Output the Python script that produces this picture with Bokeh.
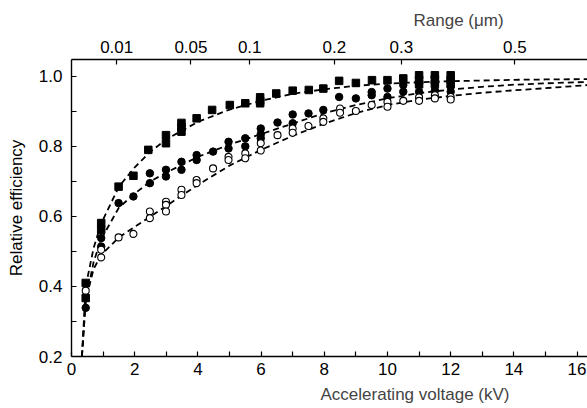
from bokeh.plotting import figure
from bokeh.models import LinearAxis, FixedTicker, Range1d, Title
from bokeh.embed import file_html
from bokeh.resources import INLINE

# ---------------- data ----------------
# filled squares
sq_kv = [0.45, 0.45, 0.94, 0.94, 1.49, 1.96, 2.43, 2.99, 2.99, 3.48, 3.48, 3.48, 3.96, 4.45,
         5.01, 5.50, 5.97, 5.97, 5.97, 6.48, 7.0, 7.51, 7.97, 8.47, 9.0, 9.51, 10.0, 10.5,
         11.0, 11.0, 11.0, 11.5, 11.5, 11.5, 12.0, 12.0, 12.0]
sq_eff = [0.41, 0.367, 0.581, 0.562, 0.685, 0.716, 0.79, 0.809, 0.832, 0.867, 0.855, 0.842, 0.880, 0.904,
          0.918, 0.923, 0.94, 0.93, 0.923, 0.951, 0.959, 0.961, 0.965, 0.987, 0.981, 0.989, 0.989, 0.994,
          1.003, 0.99, 0.977, 1.003, 0.99, 0.978, 1.003, 0.99, 0.977]
# filled circles
fc_kv = [0.45, 0.94, 0.94, 1.49, 1.96, 2.48, 2.48, 2.99, 2.99, 3.48, 3.48, 3.96, 3.96, 4.48,
         4.97, 4.97, 5.50, 5.50, 5.99, 5.99, 5.99, 6.52, 7.0, 7.0, 7.5, 7.97, 8.47, 9.0,
         9.5, 9.5, 10.0, 10.0, 10.5, 10.5, 11.0, 11.0, 11.5, 11.5, 11.5, 12.0, 12.0, 12.0]
fc_eff = [0.339, 0.538, 0.514, 0.638, 0.657, 0.723, 0.695, 0.733, 0.714, 0.756, 0.733, 0.775, 0.761, 0.785,
          0.813, 0.794, 0.823, 0.80, 0.851, 0.835, 0.823, 0.868, 0.891, 0.866, 0.894, 0.904, 0.941, 0.937,
          0.955, 0.946, 0.965, 0.941, 0.975, 0.956, 0.98, 0.956, 1.0, 0.98, 0.96, 0.99, 0.972, 0.956]
# open circles
oc_kv = [0.45, 0.94, 0.94, 1.49, 1.96, 2.48, 2.48, 2.99, 2.99, 2.99, 3.48, 3.48, 3.96, 3.96,
         4.48, 4.97, 4.97, 5.50, 5.50, 5.99, 5.99, 6.52, 7.0, 7.0, 7.5, 7.97, 7.97, 8.5, 8.5,
         9.0, 9.5, 10.0, 10.0, 10.5, 11.0, 11.0, 11.5, 11.5, 12.0, 12.0]
oc_eff = [0.388, 0.505, 0.483, 0.540, 0.550, 0.614, 0.595, 0.642, 0.633, 0.614, 0.676, 0.661, 0.704, 0.695,
          0.737, 0.770, 0.761, 0.780, 0.766, 0.809, 0.788, 0.832, 0.851, 0.839, 0.858, 0.880, 0.870, 0.908, 0.896,
          0.901, 0.918, 0.927, 0.913, 0.930, 0.940, 0.930, 0.946, 0.937, 0.941, 0.934]

# dashed fitted curves
fit_kv = [0.33, 0.45, 0.7, 0.94, 1.5, 2.0, 2.5, 3.0, 4.0, 5.0, 6.0, 7.0, 8.0, 9.0, 10.0, 11.0, 12.0, 13.0, 14.0, 15.0, 16.33]
fit_sq = [0.20, 0.40, 0.51, 0.58, 0.685, 0.74, 0.785, 0.82, 0.87, 0.905, 0.93, 0.95, 0.963, 0.973, 0.979, 0.983, 0.986, 0.988, 0.99, 0.991, 0.992]
fit_fc = [0.20, 0.36, 0.47, 0.535, 0.625, 0.665, 0.70, 0.725, 0.77, 0.805, 0.835, 0.865, 0.895, 0.918, 0.937, 0.952, 0.962, 0.97, 0.976, 0.98, 0.984]
fit_oc = [0.20, 0.36, 0.45, 0.49, 0.54, 0.57, 0.60, 0.63, 0.69, 0.745, 0.79, 0.83, 0.865, 0.895, 0.918, 0.933, 0.944, 0.953, 0.96, 0.966, 0.975]

# axes
x_ticks = list(range(0, 17))
y_ticks = [0.2, 0.3, 0.4, 0.5, 0.6, 0.7, 0.8, 0.9, 1.0]
range_labels = ["0.01", "0.05", "0.1", "0.2", "0.3", "0.5"]
range_kv = [1.43, 3.78, 5.64, 8.32, 10.44, 14.03]

FONT = "Liberation Sans"
FS = "17px"

p = figure(width=587, height=408, output_backend="svg", toolbar_location=None,
           x_range=Range1d(0, 16.33), y_range=Range1d(0.2, 1.048),
           min_border_left=71, min_border_right=0, min_border_top=59, min_border_bottom=51)
p.title.text = "Range (μm)"
p.title.align = "left"
p.title.offset = 342
p.title.text_font = FONT
p.title.text_font_size = FS
p.title.text_font_style = "normal"
p.title.standoff = 16
p.grid.visible = False
p.outline_line_color = None
p.background_fill_color = "white"
p.border_fill_color = "white"

def style_axis(ax):
    ax.axis_line_color = "black"
    ax.axis_line_width = 1.4
    ax.major_tick_in = 5
    ax.major_tick_out = 0
    ax.major_tick_line_color = "black"
    ax.major_tick_line_width = 1.2
    ax.minor_tick_line_color = None
    ax.major_label_text_font = FONT
    ax.major_label_text_font_size = FS
    ax.major_label_text_color = "black"
    ax.axis_label_text_font = FONT
    ax.axis_label_text_font_size = FS
    ax.axis_label_text_font_style = "normal"
    ax.axis_label_text_color = "black"

xa = p.xaxis[0]
style_axis(xa)
xa.ticker = FixedTicker(ticks=x_ticks)
xa.major_label_overrides = {t: (str(t) if t % 2 == 0 else "") for t in x_ticks}
xa.major_label_standoff = 6

ya = p.yaxis[0]
style_axis(ya)
ya.ticker = FixedTicker(ticks=y_ticks)
ya.major_label_overrides = {t: (f"{t:.1f}" if round(t * 10) % 2 == 0 else "") for t in y_ticks}
ya.major_label_standoff = 9
ya.axis_label = "Relative efficiency"
ya.axis_label_standoff = 10

top = LinearAxis(ticker=FixedTicker(ticks=range_kv),
                 major_label_overrides={k: l for k, l in zip(range_kv, range_labels)})
style_axis(top)
top.major_label_standoff = 7
p.add_layout(top, "above")

p.add_layout(Title(text="Accelerating voltage (kV)", align="left", offset=249,
                   text_font=FONT, text_font_size=FS, text_font_style="normal",
                   standoff=10), "below")

dash = "6 4"
for ys in (fit_sq, fit_fc, fit_oc):
    p.line(fit_kv, ys, line_color="black", line_width=1.8, line_dash=dash)

p.scatter(sq_kv, sq_eff, marker="square", size=7.5, fill_color="black", line_color="black")
p.scatter(fc_kv, fc_eff, marker="circle", size=7.5, fill_color="black", line_color="black")
p.scatter(oc_kv, oc_eff, marker="circle", size=7, fill_color="white", line_color="black", line_width=1.1)

open("out.html", "w").write(file_html(p, INLINE))
